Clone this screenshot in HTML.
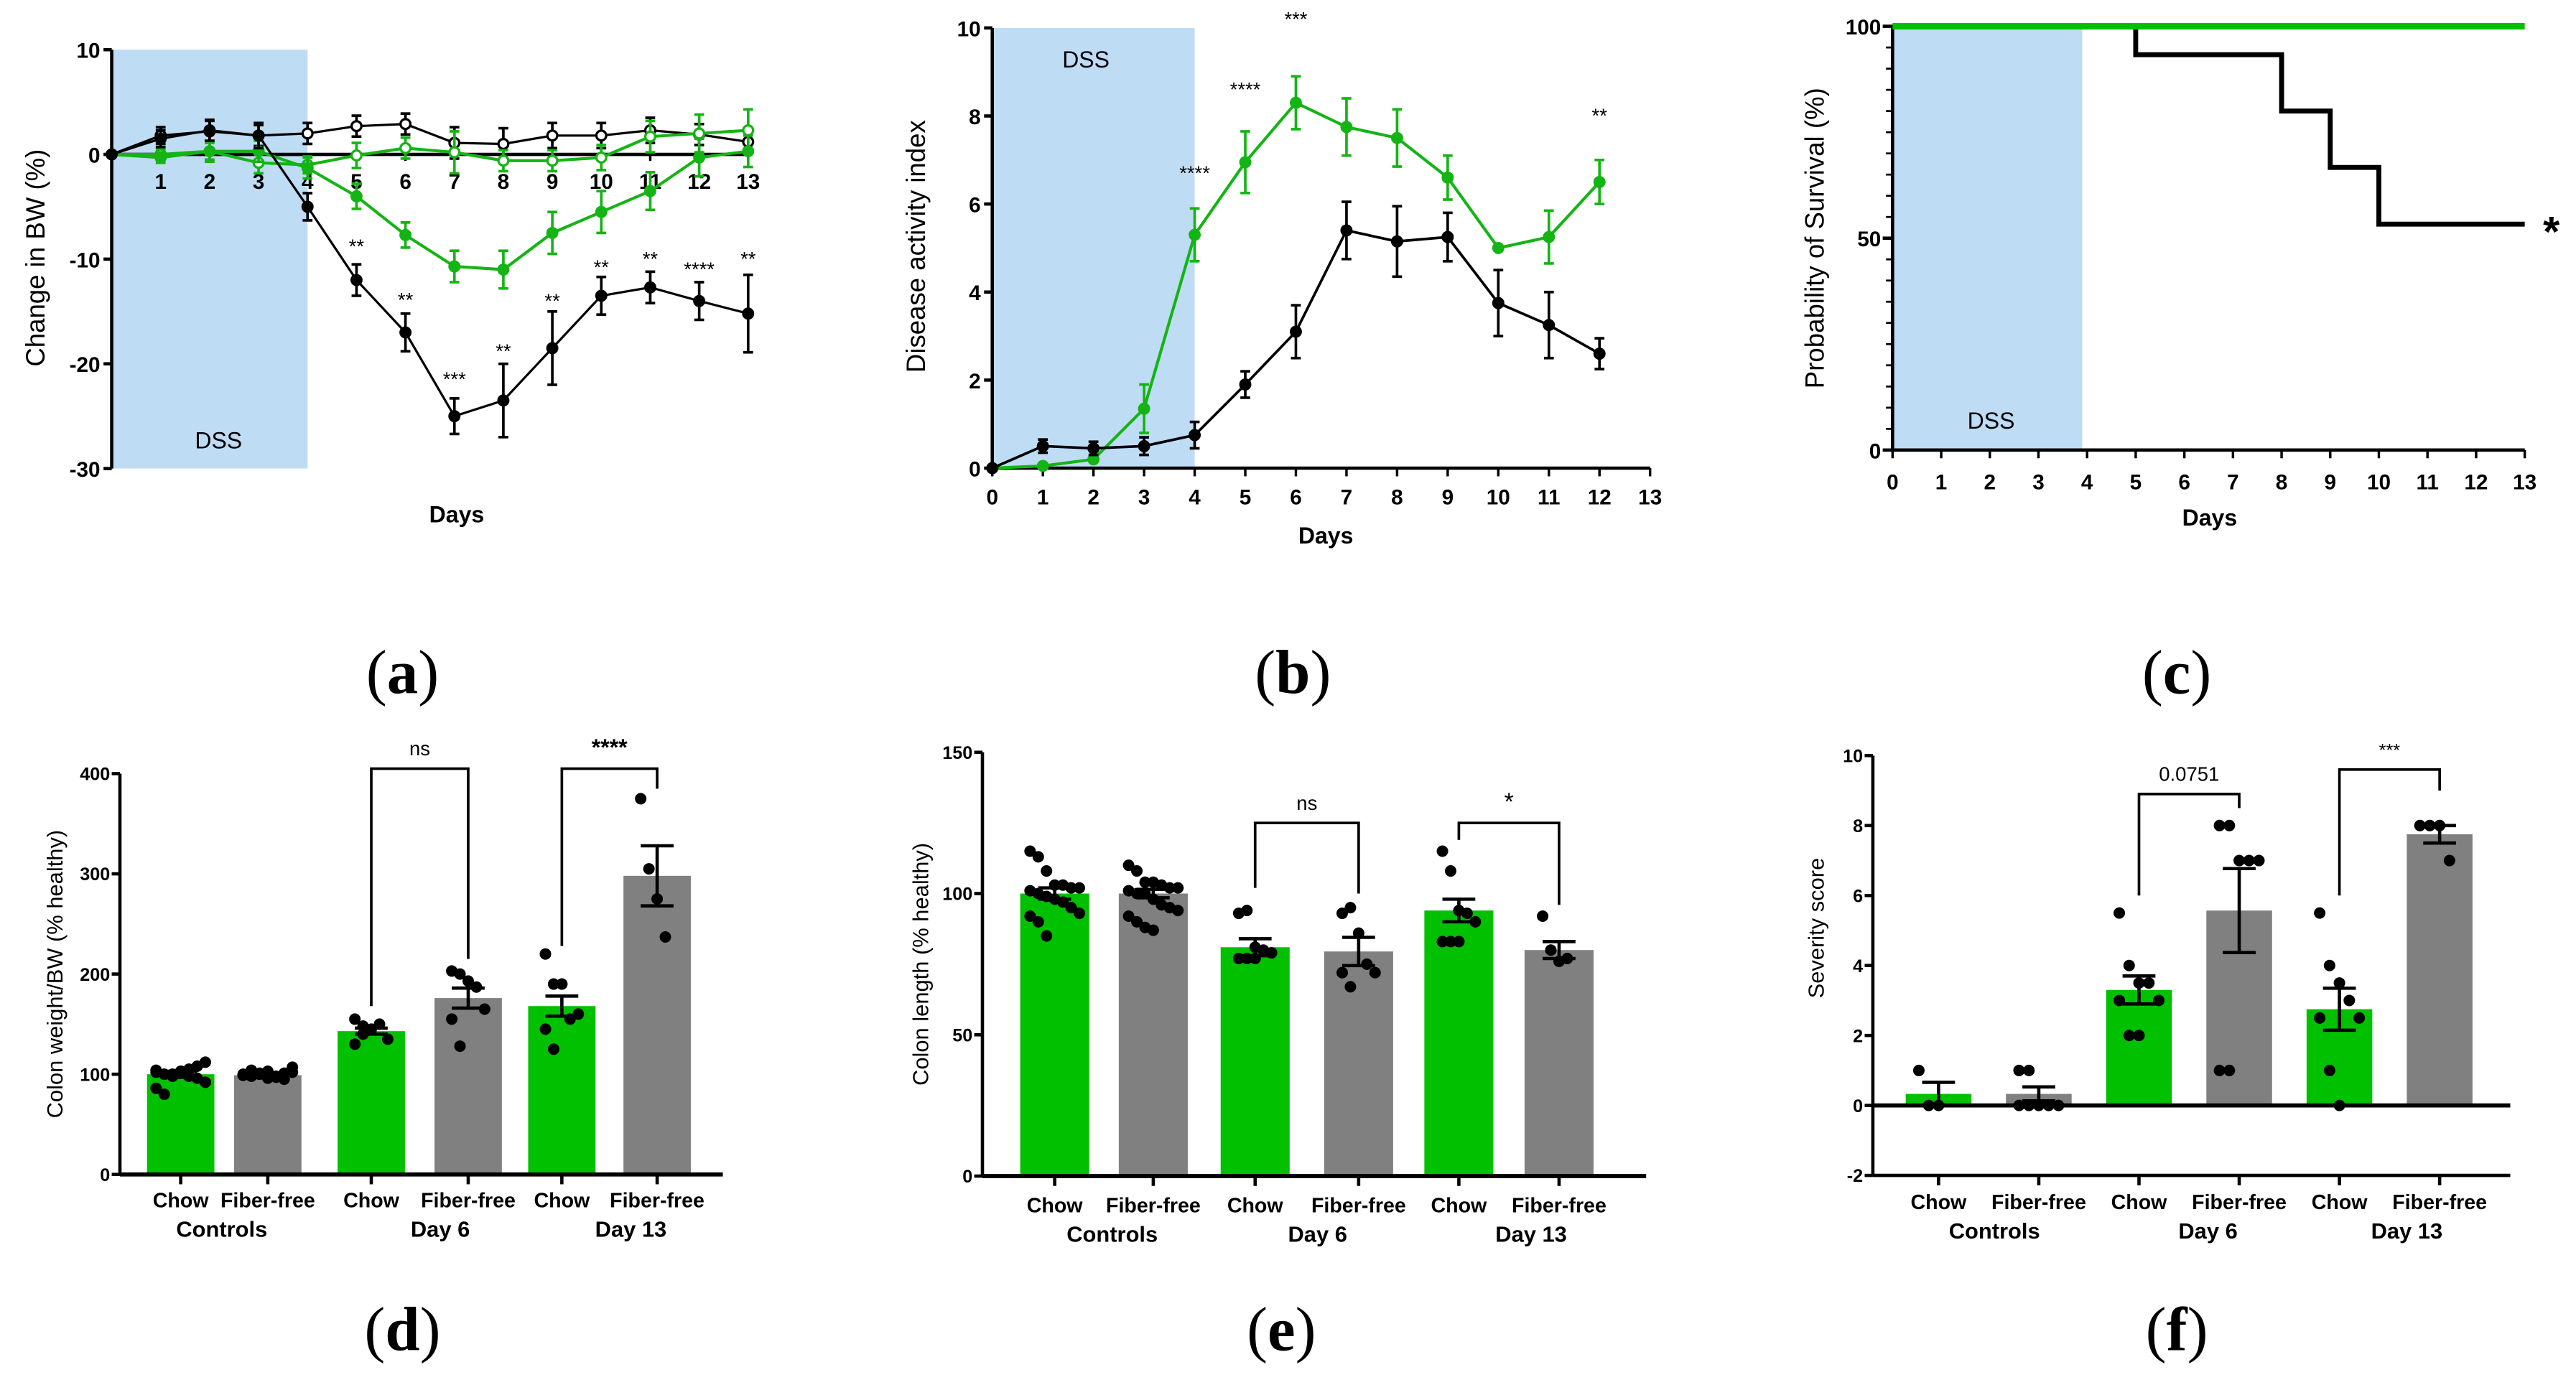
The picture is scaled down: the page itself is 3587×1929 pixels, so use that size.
<!DOCTYPE html>
<html><head><meta charset="utf-8"><style>
html,body{margin:0;padding:0;background:#fff;}
svg{display:block;}
text{font-family:"Liberation Sans",Arial,sans-serif;}
</style></head>
<body>
<svg id="fig" xmlns="http://www.w3.org/2000/svg" width="3587" height="1929" viewBox="0 0 1568 843.2" preserveAspectRatio="none"></svg>
<script>
// ---------- Panel a data ----------
const aDays=[0,1,2,3,4,5,6,7,8,9,10,11,12,13];
const aBlackFilled=[0,1.5,2.3,1.8,-5,-12,-17,-25,-23.5,-18.5,-13.5,-12.7,-14,-15.2];
const aBlackFilledErr=[0,0.8,1,1.2,1.3,1.5,1.8,1.7,3.5,3.5,1.8,1.5,1.8,3.7];
const aBlackOpen=[0,1.8,2.2,1.8,2,2.7,2.9,1.1,1,1.8,1.8,2.3,1.9,1.2];
const aBlackOpenErr=[0,0.8,1,1,1,1,1,1.5,1.5,1.2,1.2,1.2,1,1];
const aGreenFilled=[0,-0.3,0.3,0.3,-1.3,-4,-7.7,-10.7,-11,-7.5,-5.5,-3.5,-0.3,0.3];
const aGreenFilledErr=[0,0.5,0.8,1,1,1.2,1.2,1.5,1.8,2,2,1.8,1.8,1.5];
const aGreenOpen=[0,0,0.3,-0.8,-1,-0.1,0.6,0.2,-0.6,-0.6,-0.3,1.7,2,2.3];
const aGreenOpenErr=[0,0.5,1,1,0.8,1.2,1,2,1,1,1.2,1.5,1.8,2];
const aStarDays=[5,6,7,8,9,10,11,12,13];
const aStarVals=[-8.8,-13.9,-21.5,-18.8,-14,-10.8,-10,-11,-10];
const aStarLabels=["**","**","***","**","**","**","**","****","**"];
const aTicks=[10,0,-10,-20,-30];
// ---------- Panel b data ----------
const bDays=[0,1,2,3,4,5,6,7,8,9,10,11,12];
const bBlack=[0,0.5,0.45,0.5,0.75,1.9,3.1,5.4,5.15,5.25,3.75,3.25,2.6];
const bBlackErr=[0,0.15,0.15,0.2,0.3,0.3,0.6,0.65,0.8,0.55,0.75,0.75,0.35];
const bGreen=[0,0.05,0.2,1.35,5.3,6.95,8.3,7.75,7.5,6.6,5.0,5.25,6.5];
const bGreenErr=[0,0,0,0.55,0.6,0.7,0.6,0.65,0.65,0.5,0,0.6,0.5];
const bStarDays=[4,5,6,12];
const bStarVals=[6.7,8.6,10.2,8.0];
const bStarLabels=["****","****","***","**"];
const bTicks=[0,2,4,6,8,10];
// ---------- Panel c data ----------
const cGreenDays=[0,13];
const cGreenVals=[100,100];
const cBlackDays=[0,5,8,9,10,13];
const cBlackVals=[100,93.3,80,66.7,53.3,53.3];
const cTicks=[0,50,100];
// ---------- Bar panels ----------
const barCategories=["Chow","Fiber-free","Chow","Fiber-free","Chow","Fiber-free"];
const barGroups=["Controls","Day 6","Day 13"];
const dMeans=[100,99,143,176,168,298];
const dErrs=[3,2,3,10,10,30];
const dPoints=[[102,100,98,101,105,96,92,86,80,100,103,98,108,112,104],[100,98,101,103,97,95,102,99,104,100,96,98,101,107,99],[155,148,145,150,135,130,140],[203,200,193,187,165,155,128],[220,190,190,155,160,145,125],[375,305,275,237]];
const dTicks=[0,100,200,300,400];
const eMeans=[100,100,81,79.5,94,80];
const eErrs=[2,1.5,3,5,4,3];
const ePoints=[[115,113,108,103,103,102,102,101,100,99,98,97,95,93,92,90,85],[110,108,104,104,103,102,102,101,100,100,98,96,95,94,92,90,88,87],[93,94,81,80,79,77,77,77],[93,95,86,75,72,72,67],[115,108,94,93,90,83,83,83],[92,80,76,77]];
const eTicks=[0,50,100,150];
const fMeans=[0.33,0.33,3.3,5.57,2.75,7.75];
const fErrs=[0.33,0.2,0.4,1.2,0.6,0.25];
const fPoints=[[1,0,0],[1,1,0,0,0,0,0],[5.5,4,3.5,3.5,3,3,2,2],[8,8,7,7,7,1,1],[5.5,4,3.5,3,2.5,2.5,1,0],[8,8,8,7]];
const fTicks=[-2,0,2,4,6,8,10];

const NS='http://www.w3.org/2000/svg';
const svg=document.getElementById('fig');
const GREEN='#14b414', BARGREEN='#00c000', GRAY='#808080', DSS='#bfdcf5';
function mk(tag,attrs,parent,name){
  const e=document.createElementNS(NS,tag);
  for(const k in attrs) e.setAttribute(k,attrs[k]);
  
  
  (parent||svg).appendChild(e);
  return e;
}
function txt(x,y,s,size,name,opts){
  opts=opts||{};
  const t=mk('text',{x:x,y:y,'font-size':size,'text-anchor':opts.anchor||'middle','font-weight':opts.weight||'normal',fill:'#000'},opts.parent,name);
  if(opts.rot) t.setAttribute('transform','rotate(-90 '+x+' '+y+')');
  if(opts.family) t.setAttribute('style','font-family:'+opts.family);
  t.textContent=s;
  return t;
}
function panelLabel(x,y,letter,g,name){
  const t=mk('text',{x:x,y:y,'font-size':38,'text-anchor':'middle',fill:'#000',style:'font-family:"Liberation Serif",serif'},g,name);
  t.appendChild(document.createTextNode('('));
  const b=document.createElementNS(NS,'tspan');
  b.setAttribute('font-weight','bold');
  b.textContent=letter;
  t.appendChild(b);
  t.appendChild(document.createTextNode(')'));
}
function line(x1,y1,x2,y2,w,c,name,g){return mk('line',{x1:x1,y1:y1,x2:x2,y2:y2,stroke:c||'#000','stroke-width':w||1.5},g,name);}
function series(g,xs,ys,errs,X,Y,color,open,name,w){
  let d='';
  xs.forEach((x,i)=>{d+=(i?'L':'M')+X(x)+' '+Y(ys[i]);});
  mk('path',{d:d,fill:'none',stroke:color,'stroke-width':w||1.6},g,name+'-line');
  xs.forEach((x,i)=>{
    if(errs[i]>0){
      line(X(x),Y(ys[i]-errs[i]),X(x),Y(ys[i]+errs[i]),1.6,color,name+'-errorbar',g);
      line(X(x)-3,Y(ys[i]+errs[i]),X(x)+3,Y(ys[i]+errs[i]),1.6,color,name+'-errorcap',g);
      line(X(x)-3,Y(ys[i]-errs[i]),X(x)+3,Y(ys[i]-errs[i]),1.6,color,name+'-errorcap',g);
    }
    mk('circle',{cx:X(x),cy:Y(ys[i]),r:3,fill:open?'#fff':color,stroke:color,'stroke-width':1.4},g,name+'-point');
  });
}

// ================= Panel a =================
(function(){
  const g=mk('g',{},svg,'panel-a-weight-change');
  const X=d=>68+d*29.8, Y=v=>94-v*(255/40);
  mk('rect',{x:X(0),y:Y(10),width:X(4)-X(0),height:Y(-30)-Y(10),fill:DSS},g,'dss-period-band');
  txt(133,273,'DSS',14,'dss-label',{parent:g});
  line(68,Y(10),68,Y(-30),2,'#000','y-axis',g);
  aTicks.forEach(t=>{line(63,Y(t),68,Y(t),2,'#000','y-tick',g);txt(61,Y(t)+5,String(t),13,'y-tick-label',{anchor:'end',weight:'bold',parent:g});});
  line(68,Y(0),X(13),Y(0),2,'#000','zero-line',g);
  aDays.slice(1).forEach(d=>{line(X(d),Y(0),X(d),Y(0)+4,1.5,'#000','x-tick',g);txt(X(d),Y(0)+21,String(d),13,'x-tick-label',{weight:'bold',parent:g});});
  txt(278,318,'Days',14,'x-axis-title',{weight:'bold',parent:g});
  txt(27,157,'Change in BW (%)',16,'y-axis-title',{rot:true,parent:g});
  series(g,aDays,aBlackOpen,aBlackOpenErr,X,Y,'#000',true,'control-chow-series',1.4);
  series(g,aDays,aGreenOpen,aGreenOpenErr,X,Y,GREEN,true,'control-fiberfree-series',1.8);
  series(g,aDays,aGreenFilled,aGreenFilledErr,X,Y,GREEN,false,'dss-fiberfree-series',1.8);
  series(g,aDays,aBlackFilled,aBlackFilledErr,X,Y,'#000',false,'dss-chow-series',1.4);
  aStarDays.forEach((d,i)=>txt(X(d),Y(aStarVals[i])+4,aStarLabels[i],12,'significance-stars',{parent:g}));
  panelLabel(245,422,'a',g,'panel-label-a');
})();

// ================= Panel b =================
(function(){
  const g=mk('g',{},svg,'panel-b-disease-activity');
  const X=d=>604+d*30.8, Y=v=>285-v*26.8;
  mk('rect',{x:X(0),y:Y(10),width:X(4)-X(0),height:Y(0)-Y(10),fill:DSS},g,'dss-period-band');
  txt(661,41,'DSS',14,'dss-label',{parent:g});
  line(604,Y(10),604,Y(0),2,'#000','y-axis',g);
  line(604,Y(0),X(13),Y(0),2,'#000','x-axis',g);
  bTicks.forEach(t=>{line(599,Y(t),604,Y(t),2,'#000','y-tick',g);txt(597,Y(t)+5,String(t),13,'y-tick-label',{anchor:'end',weight:'bold',parent:g});});
  for(let d=0;d<=13;d++){line(X(d),Y(0),X(d),Y(0)+5,1.5,'#000','x-tick',g);txt(X(d),Y(0)+22,String(d),13,'x-tick-label',{weight:'bold',parent:g});}
  txt(807,331,'Days',14,'x-axis-title',{weight:'bold',parent:g});
  txt(563,150,'Disease activity index',16,'y-axis-title',{rot:true,parent:g});
  series(g,bDays,bGreen,bGreenErr,X,Y,GREEN,false,'fiberfree-series',1.8);
  series(g,bDays,bBlack,bBlackErr,X,Y,'#000',false,'chow-series',1.6);
  bStarDays.forEach((d,i)=>txt(X(d),Y(bStarVals[i])+4,bStarLabels[i],12,'significance-stars',{parent:g}));
  panelLabel(787,422,'b',g,'panel-label-b');
})();

// ================= Panel c =================
(function(){
  const g=mk('g',{},svg,'panel-c-survival');
  const X=d=>1152+d*29.6, Y=v=>274-v*2.58;
  mk('rect',{x:X(0),y:Y(100),width:X(3.9)-X(0),height:Y(0)-Y(100),fill:DSS},g,'dss-period-band');
  txt(1212,261,'DSS',14,'dss-label',{parent:g});
  line(1152,Y(100),1152,Y(0),2,'#000','y-axis',g);
  line(1152,Y(0),X(13),Y(0),2,'#000','x-axis',g);
  for(let v=0;v<=100;v+=5){line(1148,Y(v),1152,Y(v),1.2,'#000','y-minor-tick',g);}
  cTicks.forEach(t=>{line(1146,Y(t),1152,Y(t),2,'#000','y-tick',g);txt(1145,Y(t)+5,String(t),13,'y-tick-label',{anchor:'end',weight:'bold',parent:g});});
  for(let d=0;d<=13;d++){line(X(d),Y(0),X(d),Y(0)+5,1.5,'#000','x-tick',g);txt(X(d),Y(0)+24,String(d),13,'x-tick-label',{weight:'bold',parent:g});}
  txt(1345,320,'Days',14,'x-axis-title',{weight:'bold',parent:g});
  txt(1110,145,'Probability of Survival (%)',16,'y-axis-title',{rot:true,parent:g});
  let d='';
  cBlackDays.forEach((x,i)=>{ if(i===0) d='M'+X(x)+' '+Y(cBlackVals[i]); else d+='H'+X(x)+'V'+Y(cBlackVals[i]); });
  mk('path',{d:d,fill:'none',stroke:'#000','stroke-width':3},g,'chow-survival-curve');
  mk('path',{d:'M'+X(cGreenDays[0])+' '+Y(cGreenVals[0])+'H'+X(cGreenDays[1]),fill:'none',stroke:'#00c000','stroke-width':4},g,'fiberfree-survival-curve');
  txt(1553,150,'*',26,'significance-star',{weight:'bold',parent:g});
  panelLabel(1325,422,'c',g,'panel-label-c');
})();

// ================= Bar panels =================
function barPanel(cfg){
  const g=mk('g',{},svg,cfg.name);
  const Y=cfg.Y, Y0=Y(0);
  const bottom=Y(cfg.ticks[0]);
  line(cfg.ax,Y(cfg.ticks[cfg.ticks.length-1]),cfg.ax,bottom,2,'#000','y-axis',g);
  cfg.ticks.forEach(t=>{line(cfg.ax-5,Y(t),cfg.ax,Y(t),2,'#000','y-tick',g);txt(cfg.ax-6,Y(t)+4,String(t),11,'y-tick-label',{anchor:'end',weight:'bold',parent:g});});
  cfg.centers.forEach((c,i)=>{
    const col=i%2===0?BARGREEN:GRAY;
    const m=cfg.means[i];
    mk('rect',{x:c-cfg.bw/2,y:Math.min(Y(m),Y0),width:cfg.bw,height:Math.abs(Y0-Y(m)),fill:col},g,'bar-'+barCategories[i].toLowerCase()+'-'+barGroups[Math.floor(i/2)].toLowerCase().replace(' ','-'));
  });
  line(cfg.ax,Y0,cfg.axEnd,Y0,2.5,'#000','x-axis',g);
  if(cfg.ticks[0]<0) line(cfg.ax,bottom,cfg.axEnd,bottom,2,'#000','x-axis-bottom',g);
  cfg.centers.forEach((c,i)=>{
    line(c,bottom,c,bottom+6,2,'#000','x-tick',g);
    txt(c,cfg.labY,barCategories[i],12.5,'x-category-label',{weight:'bold',parent:g});
    const pts=cfg.points[i];
    const n=pts.length>10?7:5;
    pts.forEach((v,j)=>{
      const off=((j%n)-(n-1)/2)*cfg.jit;
      mk('circle',{cx:c+off,cy:Y(v),r:cfg.r,fill:'#000'},g,'data-point');
    });
    const m=cfg.means[i],e=cfg.errs[i];
    line(c,Y(m-e),c,Y(m+e),2,'#000','error-bar',g);
    line(c-10,Y(m+e),c+10,Y(m+e),2,'#000','error-cap',g);
    line(c-10,Y(m-e),c+10,Y(m-e),2,'#000','error-cap',g);
  });
  barGroups.forEach((gr,k)=>txt(cfg.groupX[k],cfg.labY+18,gr,13.5,'x-group-label',{weight:'bold',parent:g}));
  cfg.brackets.forEach(b=>{
    const x1=cfg.centers[b.i],x2=cfg.centers[b.i+1];
    mk('path',{d:'M'+x1+' '+Y(b.l)+'V'+Y(b.top)+'H'+x2+'V'+Y(b.r),fill:'none',stroke:'#000','stroke-width':1.6},g,'significance-bracket');
    txt((x1+x2)/2,Y(b.top)-8,b.label,b.size||12,'significance-label',{parent:g,weight:b.bold?'bold':'normal'});
  });
  txt(cfg.titleX,cfg.titleY,cfg.title,13.5,'y-axis-title',{rot:true,parent:g});
  panelLabel(cfg.plX,822,cfg.pl,g,'panel-label-'+cfg.pl);
}
barPanel({name:'panel-d-colon-weight',Y:v=>715-v*0.61,ticks:dTicks,ax:73,axEnd:440,centers:[110,163,226,285,342,400],bw:41,
  means:dMeans,errs:dErrs,points:dPoints,jit:5,r:3.5,labY:735,groupX:[135,268,384],
  brackets:[{i:2,top:405,l:168,r:215,label:'ns'},{i:4,top:405,l:228,r:385,label:'****',bold:true,size:14}],
  title:'Colon weight/BW (% healthy)',titleX:38,titleY:593,pl:'d',plX:245});
barPanel({name:'panel-e-colon-length',Y:v=>716-v*1.72,ticks:eTicks,ax:598,axEnd:1002,centers:[642,702,764,827,888,949],bw:42,
  means:eMeans,errs:eErrs,points:ePoints,jit:5,r:3.5,labY:738,groupX:[677,802,932],
  brackets:[{i:2,top:125,l:102,r:100,label:'ns'},{i:4,top:125,l:119,r:96,label:'*',size:15}],
  title:'Colon length (% healthy)',titleX:565,titleY:587,pl:'e',plX:780});
barPanel({name:'panel-f-severity',Y:v=>673-v*21.3,ticks:fTicks,ax:1140,axEnd:1528,centers:[1180,1241,1302,1363,1424,1485],bw:40,
  means:fMeans,errs:fErrs,points:fPoints,jit:6,r:3.5,labY:736,groupX:[1214,1344,1465],
  brackets:[{i:2,top:8.9,l:6,r:8.5,label:'0.0751'},{i:4,top:9.6,l:6,r:9.0,label:'***',size:11}],
  title:'Severity score',titleX:1110,titleY:565,pl:'f',plX:1325});
</script>
</body></html>
